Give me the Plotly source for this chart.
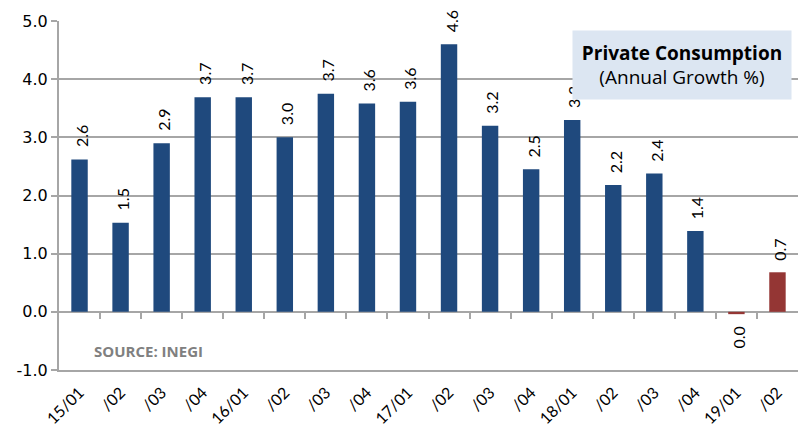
import plotly.graph_objects as go

categories = ["15/01", "/02", "/03", "/04", "16/01", "/02", "/03", "/04", "17/01", "/02",
              "/03", "/04", "18/01", "/02", "/03", "/04", "19/01", "/02"]
growth = [2.62, 1.53, 2.90, 3.69, 3.69, 3.00, 3.75, 3.58, 3.61, 4.60,
          3.20, 2.45, 3.30, 2.18, 2.38, 1.39, -0.04, 0.68]
labels = ["2.6", "1.5", "2.9", "3.7", "3.7", "3.0", "3.7", "3.6", "3.6", "4.6",
          "3.2", "2.5", "3.3", "2.2", "2.4", "1.4", "0.0", "0.7"]
years = [2015]*4 + [2016]*4 + [2017]*4 + [2018]*4 + [2019]*2
y_ticks = [-1, 0, 1, 2, 3, 4, 5]
y_tick_text = ["-1.0", "0.0", "1.0", "2.0", "3.0", "4.0", "5.0"]

BLUE = "#1F497D"
RED = "#943634"
GRID = "#A6A6A6"
colors = [RED if y == 2019 else BLUE for y in years]
xs = list(range(len(categories)))

fig = go.Figure()
fig.add_trace(go.Bar(
    x=xs, y=growth,
    marker=dict(color=colors, line=dict(width=0)),
    hoverinfo="skip",
))

# boundary ticks on the zero line
fig.add_trace(go.Scatter(x=[0], y=[0], xaxis="x2", mode="markers",
                         marker=dict(opacity=0), showlegend=False, hoverinfo="skip"))

annotations = []
for xi, v, lab in zip(xs, growth, labels):
    annotations.append(dict(
        x=xi, y=v, xref="x", yref="y", text=lab, showarrow=False,
        textangle=-90, xanchor="center",
        yanchor="bottom" if v >= 0 else "top",
        yshift=10 if v >= 0 else -10, xshift=2,
        font=dict(family="Lato, Open Sans, sans-serif", size=16, color="#000000"),
    ))

annotations += [
    dict(xref="paper", yref="paper", x=0.6942, y=0.974, xanchor="left", yanchor="top",
         text="<b>Private Consumption</b><br>(Annual Growth %)",
         showarrow=False, align="center", width=212, height=62, valign="middle",
         font=dict(family="Open Sans, sans-serif", size=19, color="#000000"),
         bgcolor="#DCE6F2", borderpad=3),
    dict(xref="paper", yref="paper", x=0.045, y=0.055, xanchor="left", yanchor="middle",
         text="<b>SOURCE: INEGI</b>", showarrow=False,
         font=dict(family="Open Sans, sans-serif", size=15, color="#808080")),
]

fig.update_layout(
    width=798, height=428,
    margin=dict(l=59, r=0, t=21, b=58),
    plot_bgcolor="white", paper_bgcolor="white",
    showlegend=False, bargap=0.6,
    xaxis=dict(
        tickmode="array", tickvals=xs, ticktext=categories,
        tickangle=-45, range=[-0.5, len(categories) - 0.5],
        tickfont=dict(family="Lato, Open Sans, sans-serif", size=16, color="#000000"),
        showgrid=False, showline=True, linecolor=GRID, linewidth=2,
        ticks="outside", ticklen=5, tickcolor="rgba(0,0,0,0)", zeroline=False,
    ),
    xaxis2=dict(
        overlaying="x", anchor="free", position=1/6, side="bottom",
        range=[-0.5, len(categories) - 0.5],
        tickmode="array", tickvals=[i + 0.5 for i in range(len(categories) - 1)],
        ticks="outside", ticklen=6, tickwidth=2, tickcolor=GRID,
        showticklabels=False, showgrid=False, showline=False, zeroline=False,
    ),
    yaxis=dict(
        range=[-1, 5], tickmode="array", tickvals=y_ticks, ticktext=y_tick_text,
        tickfont=dict(family="DejaVu Sans, sans-serif", size=16, color="#000000"),
        showgrid=True, gridcolor=GRID, gridwidth=2,
        zeroline=True, zerolinecolor=GRID, zerolinewidth=2,
        showline=True, linecolor=GRID, linewidth=2,
        ticks="outside", ticklen=6, tickwidth=2, tickcolor=GRID,
    ),
    annotations=annotations,
)

fig.write_html("out.html")
